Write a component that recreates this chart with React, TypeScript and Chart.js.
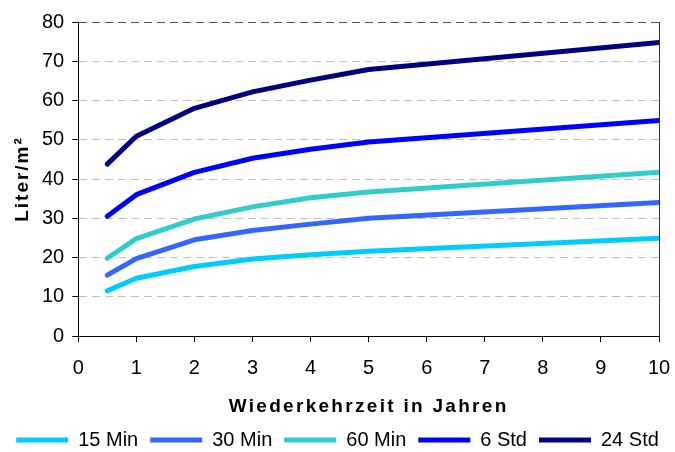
import React, { useEffect, useRef } from 'react';
import { Chart, registerables } from 'chart.js';

Chart.register(...registerables);

const years = [0.5, 1, 2, 3, 4, 5, 10];
const seriesNames = ['15 Min', '30 Min', '60 Min', '6 Std', '24 Std'];
const min15 = [11.5, 14.7, 17.7, 19.6, 20.7, 21.6, 24.9];
const min30 = [15.5, 19.7, 24.5, 26.9, 28.5, 30.0, 34.0];
const min60 = [19.8, 24.8, 29.8, 32.9, 35.2, 36.7, 41.7];
const std6 = [30.5, 36.0, 41.7, 45.3, 47.6, 49.4, 54.9];
const std24 = [43.8, 50.9, 58.0, 62.2, 65.2, 67.9, 74.8];
const seriesColors = ['#00CCFF', '#3366FF', '#33CCCC', '#0000FF', '#000080'];
const xTitle = 'Wiederkehrzeit in Jahren';
const yTitle = 'Liter/m²';

const titleSpacing = {
  id: 'titleSpacing',
  beforeDraw(chart: any) {
    const specs: [string, string][] = [['x', '2.3px'], ['y', '2px']];
    for (const [id, sp] of specs) {
      const s: any = chart.scales[id];
      if (s && !s.__wrapped) {
        const orig = s.drawTitle;
        s.drawTitle = function (...args: any[]) {
          const ctx = this.ctx;
          ctx.save();
          ctx.letterSpacing = sp;
          orig.apply(this, args);
          ctx.restore();
        };
        s.__wrapped = true;
      }
    }
  },
};

export default function App() {
  const ref = useRef<HTMLCanvasElement>(null);

  useEffect(() => {
    document.body.style.margin = '0';
    Chart.defaults.font.family = "'Liberation Sans', Arial, sans-serif";
    Chart.defaults.color = '#000';
    const values = [min15, min30, min60, std6, std24];
    const chart = new Chart(ref.current as HTMLCanvasElement, {
      type: 'line',
      data: {
        datasets: seriesNames.map((name, i) => ({
          label: name,
          data: years.map((x, j) => ({ x, y: values[i][j] })),
          borderColor: seriesColors[i],
          backgroundColor: seriesColors[i],
          borderWidth: 5,
          borderCapStyle: 'round',
          borderJoinStyle: 'round',
          pointRadius: 0,
          pointHoverRadius: 0,
          tension: 0,
          fill: false,
        })),
      },
      options: {
        animation: false,
        responsive: false,
        layout: { padding: { top: 22, left: 0, right: 0, bottom: -8 } },
        plugins: {
          tooltip: { enabled: false },
          legend: {
            position: 'bottom',
            labels: {
              usePointStyle: true,
              pointStyle: 'line',
              pointStyleWidth: 52,
              padding: 12,
              color: '#000',
              font: { size: 20 },
            },
          },
        },
        scales: {
          x: {
            type: 'linear',
            min: 0,
            max: 10,
            ticks: { stepSize: 1, font: { size: 20 }, color: '#000', padding: 14 },
            grid: { drawOnChartArea: false, drawTicks: true, tickLength: 6, tickColor: '#000' },
            border: { display: true, color: '#000', width: 1 },
            title: {
              display: true,
              text: xTitle,
              color: '#000',
              font: { size: 19, weight: 'bold' },
              padding: { top: 1.2, bottom: 0 },
            },
            afterFit: (s: any) => {
              s.paddingRight = 0;
            },
          },
          y: {
            type: 'linear',
            min: 0,
            max: 80,
            ticks: { stepSize: 10, font: { size: 20 }, color: '#000', padding: 8 },
            grid: {
              color: (c: any) =>
                c.tick && c.tick.value === 80 ? '#555555' : c.tick && c.tick.value === 0 ? 'rgba(0,0,0,0)' : '#c0c0c0',
              lineWidth: 1,
              tickLength: 6,
              tickColor: '#000',
            },
            border: { display: true, color: '#000', width: 1, dash: [8, 5] },
            title: {
              display: true,
              text: yTitle,
              color: '#000',
              font: { size: 19, weight: 'bold' },
              padding: { top: 11.2, bottom: 0 },
            },
          },
          y2: {
            type: 'linear',
            position: 'right',
            min: 0,
            max: 80,
            display: true,
            ticks: { display: false },
            grid: { display: false, drawTicks: false },
            border: { display: true, color: '#333333', width: 1 },
            afterFit: (s: any) => {
              s.width = 16;
            },
          },
        },
      } as any,
      plugins: [titleSpacing],
    });
    return () => chart.destroy();
  }, []);

  return <canvas ref={ref} width={675} height={452} style={{ display: 'block' }} />;
}
